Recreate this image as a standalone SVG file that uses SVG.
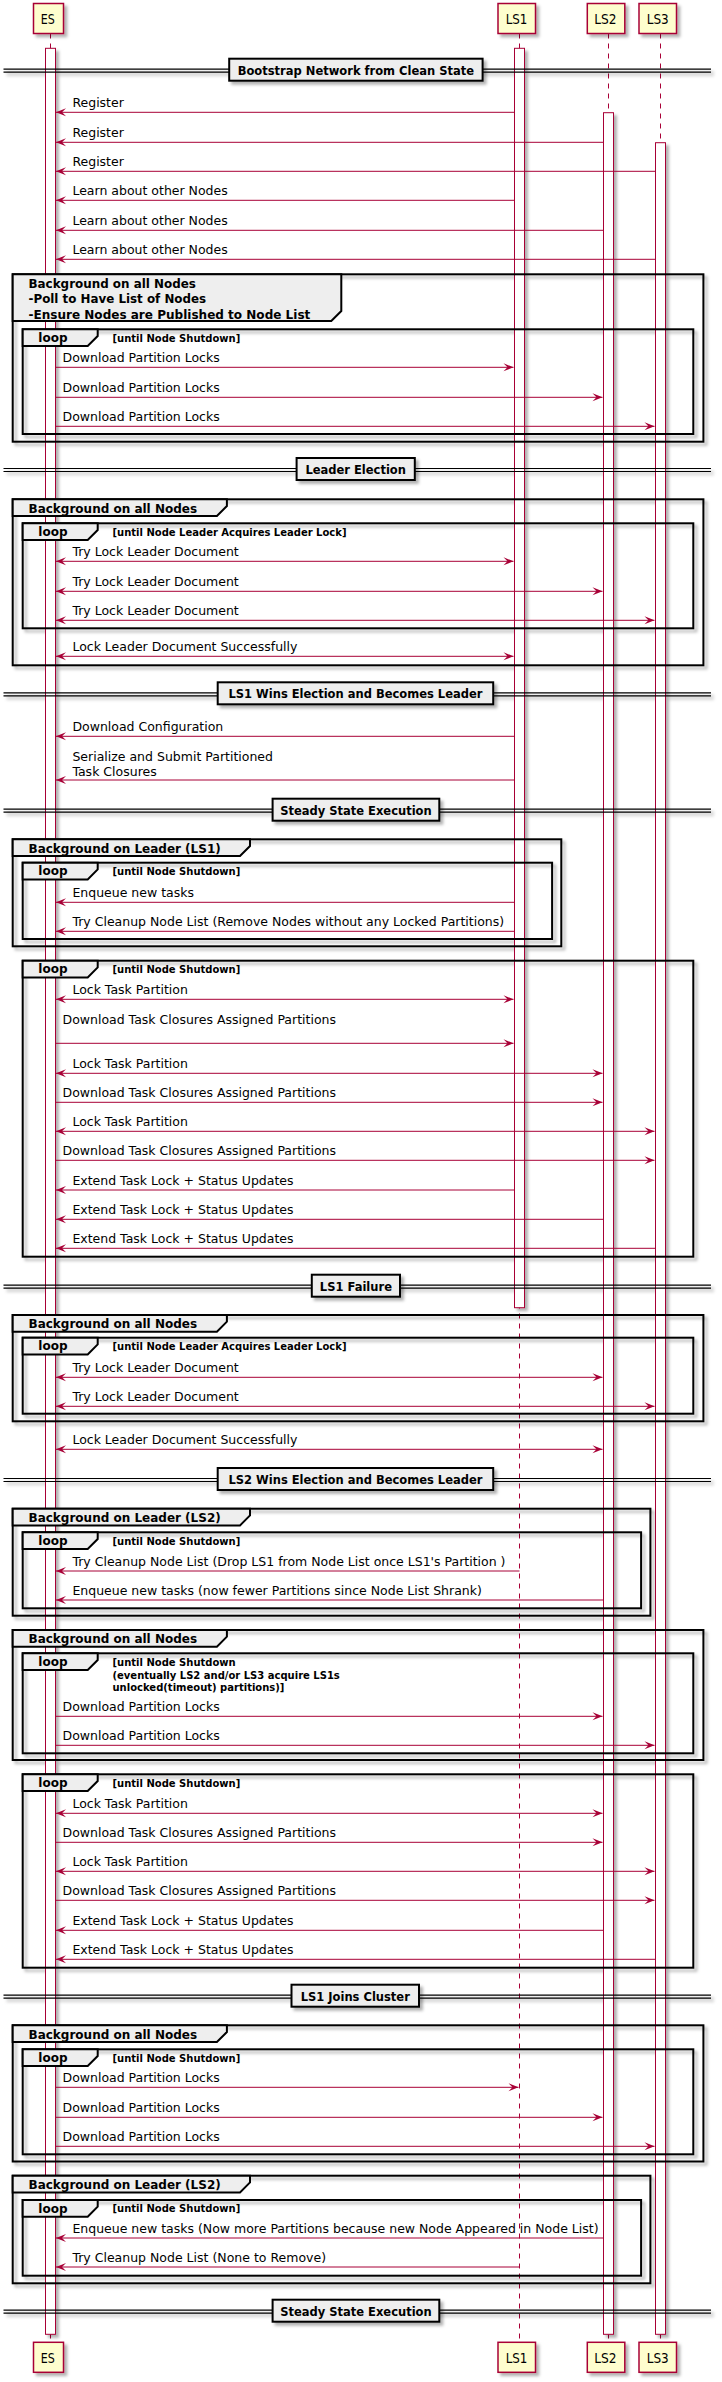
<svg xmlns="http://www.w3.org/2000/svg" width="722" height="2382" viewBox="0 0 722 2382">
<style>
.ll{stroke:#A80036;stroke-width:1;stroke-dasharray:5,5;fill:none}
.pb{fill:#FEFECE;stroke:#A80036;stroke-width:1.5}
.pt{font-family:"DejaVu Sans",sans-serif;font-size:14px;fill:#000}
.act{fill:#FFFFFF;stroke:#A80036;stroke-width:1}
.fr{fill:none;stroke:#000;stroke-width:2}
.tab{fill:#EEEEEE;stroke:#000;stroke-width:2}
.dl{stroke:#000;stroke-width:1.2;fill:none}
.db{fill:#EEEEEE;stroke:#000;stroke-width:2}
.dt{font-family:"DejaVu Sans",sans-serif;font-size:11.5px;font-weight:bold;text-anchor:middle;fill:#000}
.gt{font-family:"DejaVu Sans",sans-serif;font-size:12px;font-weight:bold;fill:#000}
.ct{font-family:"DejaVu Sans",sans-serif;font-size:10px;font-weight:bold;fill:#000}
.mt{font-family:"DejaVu Sans",sans-serif;font-size:12.5px;fill:#000}
.ml{stroke:#A80036;stroke-width:1;fill:none}
.r{marker-end:url(#ah)}
.b{marker-start:url(#ah);marker-end:url(#ah)}
</style>
<defs>
<marker id="ah" viewBox="-11 -5 12 10" refX="0" refY="0" markerWidth="12" markerHeight="10" markerUnits="userSpaceOnUse" orient="auto-start-reverse"><path d="M0,0 L-10,-4 L-6,0 L-10,4 Z" fill="#A80036"/></marker>
<filter id="sh" filterUnits="userSpaceOnUse" x="0" y="0" width="722" height="2382"><feDropShadow dx="3" dy="3" stdDeviation="1.5" flood-color="#000" flood-opacity="0.3"/></filter>
<filter id="shb" x="-0.2" y="-0.5" width="1.6" height="2.2"><feDropShadow dx="3" dy="3" stdDeviation="1.5" flood-color="#000" flood-opacity="0.3"/></filter>
</defs>

<!-- lifelines -->
<g id="lifelines">
<line class="ll" x1="50.5" y1="33.5" x2="50.5" y2="2342.3"/>
<line class="ll" x1="519.5" y1="33.5" x2="519.5" y2="2342.3"/>
<line class="ll" x1="608.5" y1="33.5" x2="608.5" y2="2342.3"/>
<line class="ll" x1="660.5" y1="33.5" x2="660.5" y2="2342.3"/>
</g>

<!-- participants -->
<g id="ES">
<rect class="pb" filter="url(#shb)" x="33.5" y="3.5" width="30" height="30"/>
<text class="pt" x="40.7" y="24" textLength="14" lengthAdjust="spacingAndGlyphs">ES</text>
<rect class="pb" filter="url(#shb)" x="33.5" y="2342.3" width="30" height="30"/>
<text class="pt" x="40.7" y="2363" textLength="14" lengthAdjust="spacingAndGlyphs">ES</text>
</g>
<g id="LS1">
<rect class="pb" filter="url(#shb)" x="498" y="3.5" width="37.5" height="30"/>
<text class="pt" x="505.7" y="24" textLength="21.7" lengthAdjust="spacingAndGlyphs">LS1</text>
<rect class="pb" filter="url(#shb)" x="498" y="2342.3" width="37.5" height="30"/>
<text class="pt" x="505.7" y="2363" textLength="21.7" lengthAdjust="spacingAndGlyphs">LS1</text>
</g>
<g id="LS2">
<rect class="pb" filter="url(#shb)" x="587.3" y="3.5" width="37.5" height="30"/>
<text class="pt" x="594.3" y="24" textLength="22.3" lengthAdjust="spacingAndGlyphs">LS2</text>
<rect class="pb" filter="url(#shb)" x="587.3" y="2342.3" width="37.5" height="30"/>
<text class="pt" x="594.3" y="2363" textLength="22.3" lengthAdjust="spacingAndGlyphs">LS2</text>
</g>
<g id="LS3">
<rect class="pb" filter="url(#shb)" x="639" y="3.5" width="37.5" height="30"/>
<text class="pt" x="646.7" y="24" textLength="22" lengthAdjust="spacingAndGlyphs">LS3</text>
<rect class="pb" filter="url(#shb)" x="639" y="2342.3" width="37.5" height="30"/>
<text class="pt" x="646.7" y="2363" textLength="22" lengthAdjust="spacingAndGlyphs">LS3</text>
</g>

<!-- shadowed structure: activations, frames, divider lines -->
<g id="structure" filter="url(#sh)">
<g id="activations">
<rect class="act" x="45.5" y="48.3" width="10" height="2286"/>
<rect class="act" x="514.5" y="48.3" width="10" height="1259.4"/>
<rect class="act" x="603.5" y="112.7" width="10" height="2221.6"/>
<rect class="act" x="655.5" y="142.7" width="10" height="2191.6"/>
</g>
<g id="frames">
<rect class="fr" x="12.7" y="274.3" width="690.7" height="167.4"/>
<rect class="fr" x="22.7" y="329.3" width="670.6" height="104.7"/>
<rect class="fr" x="12.7" y="499.3" width="690.7" height="166"/>
<rect class="fr" x="22.7" y="523.3" width="670.6" height="105"/>
<rect class="fr" x="12.7" y="839.3" width="548.6" height="107"/>
<rect class="fr" x="22.7" y="862.7" width="529.4" height="76.3"/>
<rect class="fr" x="22.7" y="960.7" width="670.6" height="296"/>
<rect class="fr" x="12.7" y="1315" width="690.7" height="106.3"/>
<rect class="fr" x="22.7" y="1337.7" width="670.6" height="76"/>
<rect class="fr" x="12.7" y="1508.7" width="637.7" height="107"/>
<rect class="fr" x="22.7" y="1532.3" width="618.4" height="76"/>
<rect class="fr" x="12.7" y="1630" width="690.7" height="130"/>
<rect class="fr" x="22.7" y="1653.3" width="670.6" height="100"/>
<rect class="fr" x="22.7" y="1774.3" width="670.6" height="193.4"/>
<rect class="fr" x="12.7" y="2025.3" width="690.7" height="136.2"/>
<rect class="fr" x="22.7" y="2049.3" width="670.6" height="105"/>
<rect class="fr" x="12.7" y="2175.7" width="637.7" height="107.6"/>
<rect class="fr" x="22.7" y="2200" width="618.4" height="75.7"/>
</g>
<g id="dividerlines">
<path class="dl" d="M3.5,69.2H711M3.5,72.2H711"/>
<path class="dl" d="M3.5,468.5H711M3.5,471.5H711"/>
<path class="dl" d="M3.5,692.8H711M3.5,695.8H711"/>
<path class="dl" d="M3.5,809.2H711M3.5,812.2H711"/>
<path class="dl" d="M3.5,1285.2H711M3.5,1288.2H711"/>
<path class="dl" d="M3.5,1478.5H711M3.5,1481.5H711"/>
<path class="dl" d="M3.5,1995.2H711M3.5,1998.2H711"/>
<path class="dl" d="M3.5,2310.2H711M3.5,2313.2H711"/>
</g>
</g>

<!-- dividers -->
<g id="div1"><rect class="db" filter="url(#shb)" x="229.2" y="58.7" width="253.4" height="22"/><text class="dt" x="355.9" y="74.7">Bootstrap Network from Clean State</text></g>
<g id="div2"><rect class="db" filter="url(#shb)" x="296.6" y="458" width="118.2" height="22"/><text class="dt" x="355.7" y="474">Leader Election</text></g>
<g id="div3"><rect class="db" filter="url(#shb)" x="217.7" y="682.3" width="275.5" height="22"/><text class="dt" x="355.45" y="698.3">LS1 Wins Election and Becomes Leader</text></g>
<g id="div4"><rect class="db" filter="url(#shb)" x="272.6" y="798.7" width="166.7" height="22"/><text class="dt" x="355.95" y="814.7">Steady State Execution</text></g>
<g id="div5"><rect class="db" filter="url(#shb)" x="311.8" y="1274.7" width="88.2" height="22"/><text class="dt" x="355.9" y="1290.7">LS1 Failure</text></g>
<g id="div6"><rect class="db" filter="url(#shb)" x="217.7" y="1468" width="275.5" height="22"/><text class="dt" x="355.45" y="1484">LS2 Wins Election and Becomes Leader</text></g>
<g id="div7"><rect class="db" filter="url(#shb)" x="291.5" y="1984.7" width="127.5" height="22"/><text class="dt" x="355.25" y="2000.7">LS1 Joins Cluster</text></g>
<g id="div8"><rect class="db" filter="url(#shb)" x="272.6" y="2299.7" width="166.7" height="22"/><text class="dt" x="355.95" y="2315.7">Steady State Execution</text></g>

<!-- group tabs and labels -->
<g id="grp1">
<path class="tab" d="M12.7,274.3H341.3V311L331.3,321H12.7Z"/>
<text class="gt" x="28.5" y="287.7" textLength="167.4" lengthAdjust="spacingAndGlyphs">Background on all Nodes</text>
<text class="gt" x="28.5" y="303.2" textLength="177.6" lengthAdjust="spacingAndGlyphs">-Poll to Have List of Nodes</text>
<text class="gt" x="28.5" y="318.7" textLength="281.8" lengthAdjust="spacingAndGlyphs">-Ensure Nodes are Published to Node List</text>
</g>
<g id="loop1">
<path class="tab" d="M22.7,329.3H97.7V336L87.7,346H22.7Z"/>
<text class="gt" x="38.3" y="342">loop</text>
<text class="ct" x="112.5" y="341.7">[until Node Shutdown]</text>
</g>
<g id="grp2">
<path class="tab" d="M12.7,499.3H226.9V506L216.9,516H12.7Z"/>
<text class="gt" x="28.5" y="512.5">Background on all Nodes</text>
</g>
<g id="loop2">
<path class="tab" d="M22.7,523.3H97.7V530L87.7,540H22.7Z"/>
<text class="gt" x="38.3" y="536">loop</text>
<text class="ct" x="112.5" y="535.7">[until Node Leader Acquires Leader Lock]</text>
</g>
<g id="grp3">
<path class="tab" d="M12.7,839.3H250V846L240,856H12.7Z"/>
<text class="gt" x="28.5" y="852.5">Background on Leader (LS1)</text>
</g>
<g id="loop3">
<path class="tab" d="M22.7,862.7H97.7V869.4L87.7,879.4H22.7Z"/>
<text class="gt" x="38.3" y="875.4">loop</text>
<text class="ct" x="112.5" y="875.1">[until Node Shutdown]</text>
</g>
<g id="loop4">
<path class="tab" d="M22.7,960.7H97.7V967.4L87.7,977.4H22.7Z"/>
<text class="gt" x="38.3" y="973.4">loop</text>
<text class="ct" x="112.5" y="973.1">[until Node Shutdown]</text>
</g>
<g id="grp4">
<path class="tab" d="M12.7,1315H226.9V1321.7L216.9,1331.7H12.7Z"/>
<text class="gt" x="28.5" y="1328.2">Background on all Nodes</text>
</g>
<g id="loop5">
<path class="tab" d="M22.7,1337.7H97.7V1344.4L87.7,1354.4H22.7Z"/>
<text class="gt" x="38.3" y="1350.4">loop</text>
<text class="ct" x="112.5" y="1350.1">[until Node Leader Acquires Leader Lock]</text>
</g>
<g id="grp5">
<path class="tab" d="M12.7,1508.7H250V1515.4L240,1525.4H12.7Z"/>
<text class="gt" x="28.5" y="1521.9">Background on Leader (LS2)</text>
</g>
<g id="loop6">
<path class="tab" d="M22.7,1532.3H97.7V1539L87.7,1549H22.7Z"/>
<text class="gt" x="38.3" y="1545">loop</text>
<text class="ct" x="112.5" y="1544.7">[until Node Shutdown]</text>
</g>
<g id="grp6">
<path class="tab" d="M12.7,1630H226.9V1636.7L216.9,1646.7H12.7Z"/>
<text class="gt" x="28.5" y="1643.2">Background on all Nodes</text>
</g>
<g id="loop7">
<path class="tab" d="M22.7,1653.3H97.7V1660L87.7,1670H22.7Z"/>
<text class="gt" x="38.3" y="1666">loop</text>
<text class="ct" x="112.5" y="1665.9">[until Node Shutdown</text>
<text class="ct" x="112.5" y="1678.6">(eventually LS2 and/or LS3 acquire LS1s</text>
<text class="ct" x="112.5" y="1691.3">unlocked(timeout) partitions)]</text>
</g>
<g id="loop8">
<path class="tab" d="M22.7,1774.3H97.7V1781L87.7,1791H22.7Z"/>
<text class="gt" x="38.3" y="1787">loop</text>
<text class="ct" x="112.5" y="1786.7">[until Node Shutdown]</text>
</g>
<g id="grp7">
<path class="tab" d="M12.7,2025.3H226.9V2032L216.9,2042H12.7Z"/>
<text class="gt" x="28.5" y="2038.5">Background on all Nodes</text>
</g>
<g id="loop9">
<path class="tab" d="M22.7,2049.3H97.7V2056L87.7,2066H22.7Z"/>
<text class="gt" x="38.3" y="2062">loop</text>
<text class="ct" x="112.5" y="2061.7">[until Node Shutdown]</text>
</g>
<g id="grp8">
<path class="tab" d="M12.7,2175.7H250V2182.4L240,2192.4H12.7Z"/>
<text class="gt" x="28.5" y="2188.9">Background on Leader (LS2)</text>
</g>
<g id="loop10">
<path class="tab" d="M22.7,2200H97.7V2206.7L87.7,2216.7H22.7Z"/>
<text class="gt" x="38.3" y="2212.7">loop</text>
<text class="ct" x="112.5" y="2212.4">[until Node Shutdown]</text>
</g>

<!-- connectors -->
<g id="connectors">
<line class="ml r" x1="514.5" y1="112.3" x2="56" y2="112.3"/><text class="mt" x="72.4" y="107.3">Register</text>
<line class="ml r" x1="603.5" y1="142.3" x2="56" y2="142.3"/><text class="mt" x="72.4" y="137.3">Register</text>
<line class="ml r" x1="655.5" y1="171.3" x2="56" y2="171.3"/><text class="mt" x="72.4" y="166.3">Register</text>
<line class="ml r" x1="514.5" y1="200.3" x2="56" y2="200.3"/><text class="mt" x="72.4" y="195.3">Learn about other Nodes</text>
<line class="ml r" x1="603.5" y1="230.3" x2="56" y2="230.3"/><text class="mt" x="72.4" y="225.3">Learn about other Nodes</text>
<line class="ml r" x1="655.5" y1="259.3" x2="56" y2="259.3"/><text class="mt" x="72.4" y="254.3">Learn about other Nodes</text>

<line class="ml r" x1="55.5" y1="367.3" x2="513.5" y2="367.3"/><text class="mt" x="62.5" y="362.3">Download Partition Locks</text>
<line class="ml r" x1="55.5" y1="397.3" x2="602.5" y2="397.3"/><text class="mt" x="62.5" y="392.3">Download Partition Locks</text>
<line class="ml r" x1="55.5" y1="426.3" x2="654.5" y2="426.3"/><text class="mt" x="62.5" y="421.3">Download Partition Locks</text>

<line class="ml b" x1="56" y1="561.3" x2="513.5" y2="561.3"/><text class="mt" x="72.4" y="556.3">Try Lock Leader Document</text>
<line class="ml b" x1="56" y1="591.3" x2="602.5" y2="591.3"/><text class="mt" x="72.4" y="586.3">Try Lock Leader Document</text>
<line class="ml b" x1="56" y1="620.3" x2="654.5" y2="620.3"/><text class="mt" x="72.4" y="615.3">Try Lock Leader Document</text>
<line class="ml b" x1="56" y1="656.3" x2="513.5" y2="656.3"/><text class="mt" x="72.4" y="651.3">Lock Leader Document Successfully</text>

<line class="ml r" x1="514.5" y1="736.3" x2="56" y2="736.3"/><text class="mt" x="72.4" y="731.3">Download Configuration</text>
<line class="ml r" x1="514.5" y1="780" x2="56" y2="780"/><text class="mt" x="72.4" y="760.5">Serialize and Submit Partitioned</text><text class="mt" x="72.4" y="775.5">Task Closures</text>

<line class="ml r" x1="514.5" y1="902.3" x2="56" y2="902.3"/><text class="mt" x="72.4" y="897.3">Enqueue new tasks</text>
<line class="ml r" x1="514.5" y1="931.3" x2="56" y2="931.3"/><text class="mt" x="72.4" y="926.3">Try Cleanup Node List (Remove Nodes without any Locked Partitions)</text>

<line class="ml b" x1="56" y1="999.3" x2="513.5" y2="999.3"/><text class="mt" x="72.4" y="994.3">Lock Task Partition</text>
<line class="ml r" x1="55.5" y1="1043.3" x2="513.5" y2="1043.3"/><text class="mt" x="62.5" y="1023.8">Download Task Closures Assigned Partitions</text>
<line class="ml b" x1="56" y1="1073.3" x2="602.5" y2="1073.3"/><text class="mt" x="72.4" y="1068.3">Lock Task Partition</text>
<line class="ml r" x1="55.5" y1="1102.3" x2="602.5" y2="1102.3"/><text class="mt" x="62.5" y="1097.3">Download Task Closures Assigned Partitions</text>
<line class="ml b" x1="56" y1="1131.3" x2="654.5" y2="1131.3"/><text class="mt" x="72.4" y="1126.3">Lock Task Partition</text>
<line class="ml r" x1="55.5" y1="1160.3" x2="654.5" y2="1160.3"/><text class="mt" x="62.5" y="1155.3">Download Task Closures Assigned Partitions</text>
<line class="ml r" x1="514.5" y1="1190" x2="56" y2="1190"/><text class="mt" x="72.4" y="1185">Extend Task Lock + Status Updates</text>
<line class="ml r" x1="603.5" y1="1219.3" x2="56" y2="1219.3"/><text class="mt" x="72.4" y="1214.3">Extend Task Lock + Status Updates</text>
<line class="ml r" x1="655.5" y1="1248.3" x2="56" y2="1248.3"/><text class="mt" x="72.4" y="1243.3">Extend Task Lock + Status Updates</text>

<line class="ml b" x1="56" y1="1377.3" x2="602.5" y2="1377.3"/><text class="mt" x="72.4" y="1372.3">Try Lock Leader Document</text>
<line class="ml b" x1="56" y1="1406.3" x2="654.5" y2="1406.3"/><text class="mt" x="72.4" y="1401.3">Try Lock Leader Document</text>
<line class="ml b" x1="56" y1="1449.3" x2="602.5" y2="1449.3"/><text class="mt" x="72.4" y="1444.3">Lock Leader Document Successfully</text>

<line class="ml r" x1="519.5" y1="1571" x2="56" y2="1571"/><text class="mt" x="72.4" y="1566">Try Cleanup Node List (Drop LS1 from Node List once LS1's Partition )</text>
<line class="ml r" x1="603.5" y1="1600" x2="56" y2="1600"/><text class="mt" x="72.4" y="1595">Enqueue new tasks (now fewer Partitions since Node List Shrank)</text>

<line class="ml r" x1="55.5" y1="1716.3" x2="602.5" y2="1716.3"/><text class="mt" x="62.5" y="1711.3">Download Partition Locks</text>
<line class="ml r" x1="55.5" y1="1745.3" x2="654.5" y2="1745.3"/><text class="mt" x="62.5" y="1740.3">Download Partition Locks</text>

<line class="ml b" x1="56" y1="1813.3" x2="602.5" y2="1813.3"/><text class="mt" x="72.4" y="1808.3">Lock Task Partition</text>
<line class="ml r" x1="55.5" y1="1842.3" x2="602.5" y2="1842.3"/><text class="mt" x="62.5" y="1837.3">Download Task Closures Assigned Partitions</text>
<line class="ml b" x1="56" y1="1871.3" x2="654.5" y2="1871.3"/><text class="mt" x="72.4" y="1866.3">Lock Task Partition</text>
<line class="ml r" x1="55.5" y1="1900.3" x2="654.5" y2="1900.3"/><text class="mt" x="62.5" y="1895.3">Download Task Closures Assigned Partitions</text>
<line class="ml r" x1="603.5" y1="1930.3" x2="56" y2="1930.3"/><text class="mt" x="72.4" y="1925.3">Extend Task Lock + Status Updates</text>
<line class="ml r" x1="655.5" y1="1959.3" x2="56" y2="1959.3"/><text class="mt" x="72.4" y="1954.3">Extend Task Lock + Status Updates</text>

<line class="ml r" x1="55.5" y1="2087.3" x2="518.5" y2="2087.3"/><text class="mt" x="62.5" y="2082.3">Download Partition Locks</text>
<line class="ml r" x1="55.5" y1="2117.3" x2="602.5" y2="2117.3"/><text class="mt" x="62.5" y="2112.3">Download Partition Locks</text>
<line class="ml r" x1="55.5" y1="2146.3" x2="654.5" y2="2146.3"/><text class="mt" x="62.5" y="2141.3">Download Partition Locks</text>

<line class="ml r" x1="603.5" y1="2238" x2="56" y2="2238"/><text class="mt" x="72.4" y="2233">Enqueue new tasks (Now more Partitions because new Node Appeared in Node List)</text>
<line class="ml r" x1="519.5" y1="2267" x2="56" y2="2267"/><text class="mt" x="72.4" y="2262">Try Cleanup Node List (None to Remove)</text>
</g>
</svg>
